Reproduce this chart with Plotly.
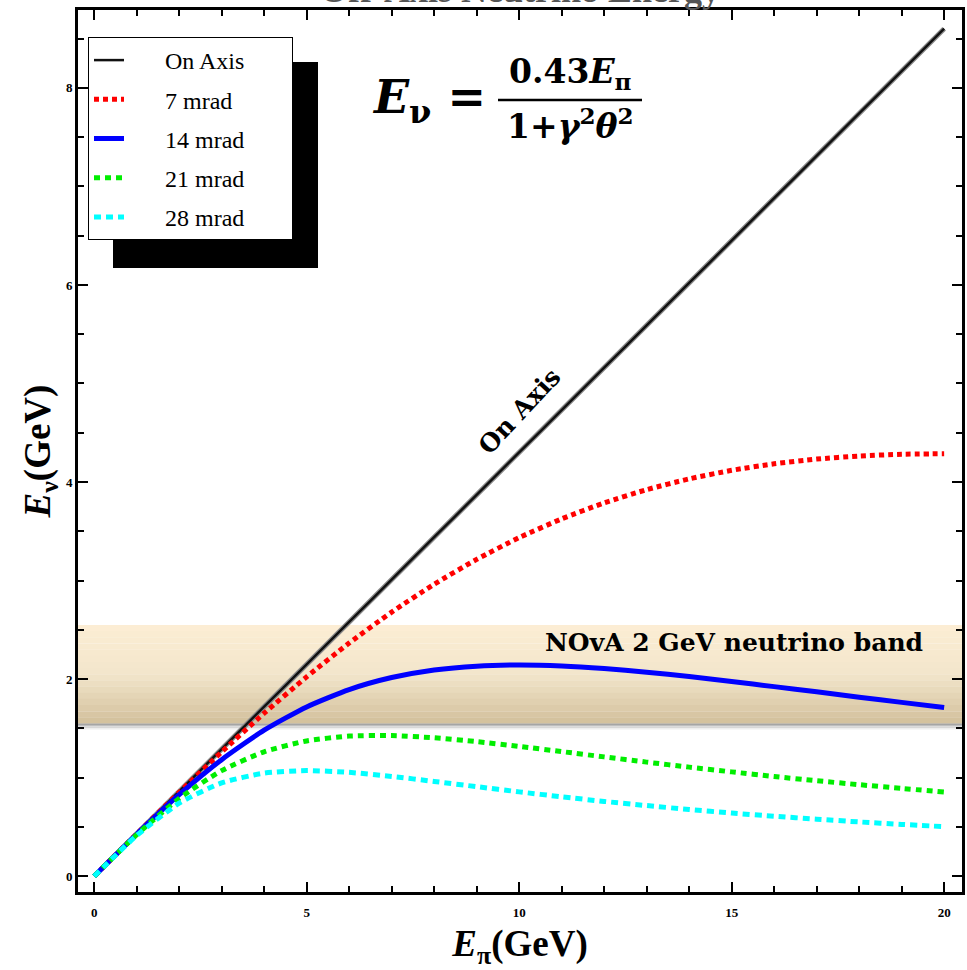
import plotly.graph_objects as go

# ---- data ----
e_pi = [0, 1, 2, 3, 4, 5, 6, 7, 8, 9, 10, 11, 12, 13, 14, 15, 16, 17, 18, 19, 20]
on_axis = [0, 0.43, 0.86, 1.29, 1.72, 2.15, 2.58, 3.01, 3.44, 3.87, 4.30, 4.73, 5.16,
           5.59, 6.02, 6.45, 6.88, 7.31, 7.74, 8.17, 8.60]
mrad_7 = [0, 0.429, 0.851, 1.261, 1.654, 2.023, 2.366, 2.680, 2.963, 3.215, 3.436, 3.626,
          3.788, 3.923, 4.032, 4.119, 4.185, 4.233, 4.264, 4.282, 4.287]
mrad_14 = [0, 0.426, 0.827, 1.183, 1.482, 1.718, 1.894, 2.016, 2.093, 2.132, 2.143, 2.133,
           2.107, 2.070, 2.026, 1.976, 1.924, 1.871, 1.817, 1.764, 1.712]
mrad_21 = [0, 0.421, 0.789, 1.072, 1.263, 1.373, 1.422, 1.427, 1.405, 1.366, 1.318, 1.265,
           1.211, 1.158, 1.107, 1.059, 1.012, 0.969, 0.929, 0.891, 0.855]
mrad_28 = [0, 0.413, 0.741, 0.947, 1.046, 1.072, 1.054, 1.013, 0.962, 0.909, 0.856, 0.806,
           0.759, 0.717, 0.677, 0.641, 0.609, 0.579, 0.551, 0.526, 0.503]
series_names = ["On Axis", "7 mrad", "14 mrad", "21 mrad", "28 mrad"]
band_low, band_high = 1.55, 2.55
x_ticks = [0, 5, 10, 15, 20]
y_ticks = [0, 2, 4, 6, 8]

SERIF = "Liberation Serif"
WIDE = "DejaVu Serif"

W, H = 967, 970
L, R, T, B = 78, 5, 10, 78
PW, PH = W - L - R, H - T - B


def px(xp):
    return (xp - L) / PW


def py(yp):
    return (H - B - yp) / PH


fig = go.Figure()

# shadow of the on-axis line
fig.add_trace(go.Scatter(x=e_pi, y=on_axis, mode="lines", showlegend=False, hoverinfo="skip",
                         legendgroup="On Axis", line=dict(color="#8a8a8a", width=5)))

styles = [
    dict(color="#111111", width=2.5, dash="solid"),
    dict(color="#ff0000", width=5, dash="5px,4px"),
    dict(color="#0000ff", width=5, dash="solid"),
    dict(color="#00ee00", width=5, dash="6px,5px"),
    dict(color="#00ffff", width=5, dash="7px,5px"),
]
NB = "\u00a0"
for name, ys, st in zip(series_names, [on_axis, mrad_7, mrad_14, mrad_21, mrad_28], styles):
    fig.add_trace(go.Scatter(x=e_pi, y=ys, mode="lines", name=NB * 6 + name + NB * 7,
                             legendgroup=name, line=dict(shape="spline", smoothing=0.6, **st)))

# NOvA band: gradient approximated by stacked strips
top_col = (252, 237, 212)
mid_col = (243, 230, 204)
bot_col = (212, 194, 158)
n = 16
h = (band_high - band_low) / n
for i in range(n):
    t = i / (n - 1)  # 0 top -> 1 bottom
    if t < 0.5:
        a, b, tt = top_col, mid_col, t / 0.5
    else:
        a, b, tt = mid_col, bot_col, (t - 0.5) / 0.5
    c = tuple(int(a[k] + (b[k] - a[k]) * tt) for k in range(3))
    y1 = band_high - i * h
    fig.add_shape(type="rect", xref="paper", yref="y", x0=0, x1=1, y0=y1 - h - 0.002, y1=y1,
                  fillcolor="rgb(%d,%d,%d)" % c, line_width=0, layer="below")
# grey shadow under the band
for j, g in enumerate([165, 190, 215, 238]):
    fig.add_shape(type="rect", xref="paper", yref="y", x0=0, x1=1,
                  y0=band_low - 0.015 * (j + 1), y1=band_low - 0.015 * j,
                  fillcolor="rgb(%d,%d,%d)" % (g, g, g), line_width=0, layer="below")

# legend shadow box
fig.add_shape(type="rect", xref="paper", yref="paper", x0=px(113), x1=px(318), y0=py(268), y1=py(62),
              fillcolor="black", line_width=0, layer="above")

# equation
fig.add_annotation(xref="paper", yref="paper", x=px(488), y=py(100),
                   xanchor="right", yanchor="middle", showarrow=False,
                   text="<b><i>E</i><sub>ν</sub> =</b>", font=dict(family=WIDE, size=46, color="black"))
fig.add_annotation(xref="paper", yref="paper", x=px(570), y=py(97),
                   xanchor="center", yanchor="bottom", showarrow=False,
                   text="<b>0.43<i>E</i><sub>π</sub></b>", font=dict(family=WIDE, size=33, color="black"))
fig.add_annotation(xref="paper", yref="paper", x=px(570), y=py(100),
                   xanchor="center", yanchor="top", showarrow=False,
                   text="<b>1+<i>γ</i><sup>2</sup><i>θ</i><sup>2</sup></b>",
                   font=dict(family=WIDE, size=33, color="black"))
fig.add_shape(type="line", xref="paper", yref="paper", x0=px(498), x1=px(642),
              y0=py(100), y1=py(100), line=dict(color="black", width=2.5))

# text labels
fig.add_annotation(x=10.0, y=4.72, text="<b>On Axis</b>", showarrow=False, textangle=-47,
                   font=dict(family=WIDE, size=25, color="black"))
fig.add_annotation(x=15.05, y=2.37, text="<b>NOvA 2 GeV neutrino band</b>", showarrow=False,
                   font=dict(family=WIDE, size=25, color="black"))

# cut-off title
fig.add_annotation(xref="paper", yref="paper", x=0.5, y=py(12), xanchor="center",
                   yanchor="bottom", showarrow=False, text="<b>Off-Axis Neutrino Energy</b>",
                   font=dict(family=SERIF, size=36, color="#555555"))

axis_common = dict(showline=True, linecolor="black", linewidth=3, mirror="allticks",
                   ticks="inside", tickcolor="black", tickwidth=2, ticklen=10,
                   showgrid=False, zeroline=False, automargin=False,
                   tickfont=dict(family=SERIF, size=13, color="black"))

fig.update_xaxes(range=[-0.38, 20.42], tickvals=x_ticks, ticktext=["<b>%d</b>" % v for v in x_ticks],
                 ticklabelstandoff=6,
                 minor=dict(dtick=1, ticks="inside", ticklen=6, tickwidth=2, tickcolor="black"),
                 title=dict(text="<b><i>E</i><sub>π</sub>(GeV)</b>",
                            font=dict(family=SERIF, size=37, color="black"), standoff=14),
                 **axis_common)
fig.update_yaxes(range=[-0.16, 8.79], tickvals=y_ticks, ticktext=["<b>%d</b>" % v for v in y_ticks],
                 minor=dict(dtick=0.5, ticks="inside", ticklen=6, tickwidth=2, tickcolor="black"),
                 title=dict(text="<b><i>E</i><sub>ν</sub>(GeV)</b>",
                            font=dict(family=SERIF, size=37, color="black"), standoff=4),
                 **axis_common)

fig.update_layout(
    width=W, height=H,
    margin=dict(l=L, r=R, t=T, b=B),
    paper_bgcolor="white", plot_bgcolor="white",
    showlegend=True,
    legend=dict(x=px(88), y=py(37), xanchor="left", yanchor="top",
                bgcolor="white", bordercolor="black", borderwidth=1,
                font=dict(family=SERIF, size=24, color="black"),
                itemwidth=30, tracegroupgap=5, traceorder="grouped"),
)

fig.write_html("out.html", config={"displayModeBar": False},
               post_script="document.body.style.margin='0px';")
